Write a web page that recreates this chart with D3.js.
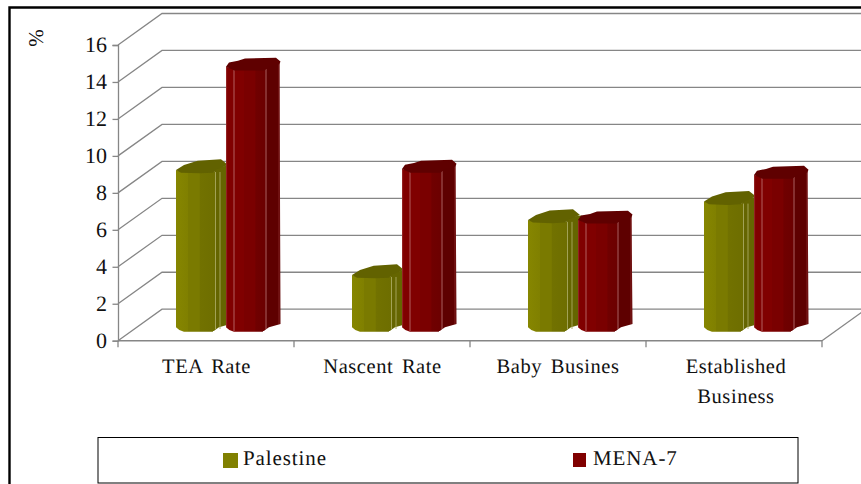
<!DOCTYPE html>
<html><head><meta charset="utf-8">
<script src="https://cdn.jsdelivr.net/npm/d3@7"></script>
<style>html,body{margin:0;padding:0;background:#fff;overflow:hidden}svg{display:block}text{font-family:"Liberation Serif",serif;fill:#111;text-rendering:geometricPrecision}</style>
</head><body><svg id="c" width="861" height="484"></svg>
<script>
const categories = [["TEA Rate"],["Nascent Rate"],["Baby Busines"],["Established","Business"]];
const seriesNames = ["Palestine","MENA-7"];
const palestine = [8.55,2.87,5.85,6.84];
const mena7 = [14.13,8.6,5.85,8.28];
const yTicks = [0,2,4,6,8,10,12,14,16];
const labelNudge = [0.5,0.5,0,2];
const svg = d3.select("#c");
const plot = {l:118,r:822,dx:44,dy:31.5};
const y = d3.scaleLinear().domain([0,16]).range([340.7,45]);
const x = d3.scaleBand().domain(d3.range(categories.length)).range([plot.l,plot.r]);
const xs = d3.scaleBand().domain(seriesNames).range([58,158]);
const barBase = 12.7, grid="#868686";
const defs = svg.append("defs");
const pal = {
 "Palestine":{stops:[["#868600",0],["#808000",.3],["#7a7a00",.31],["#7a7a00",.6],["#727200",.61],["#6e6e00",1]],side:"#656500",cap:"#626200",hi:"#a9a960",
   capPts:[[0,0],[8,-5],[21.7,-9.3],[45,-10.7],[52,-5],[41,-.7],[37,2.7],[24,3.3],[5,2.7]],hiX:[39.5,44]},
 "MENA-7":{stops:[["#800000",0],["#800000",.45],["#7a0000",.46],["#7a0000",.75],["#700000",.76],["#6c0000",1]],side:"#5e0000",cap:"#5f0000",hi:"#b86a6a",
   capPts:[[0,0],[3,-4.3],[12,-6],[19,-8.3],[50,-9.2],[54.5,-5.3],[53.3,-2.5],[43,0],[38.5,3.7],[8.3,3.7]],hiX:[8,40]}
};
seriesNames.forEach((s,i)=>{
 const g=defs.append("linearGradient").attr("id","g"+i);
 pal[s].stops.forEach(d=>g.append("stop").attr("offset",d[1]).attr("stop-color",d[0]));
});

// outer frame
svg.append("path").attr("d","M9.5,484V7.5H861").attr("fill","none").attr("stroke","#000").attr("stroke-width",2.4);

// walls
const g = svg.append("g").attr("fill","none").attr("stroke",grid).attr("stroke-width",1.3);
yTicks.forEach(t=>{
 g.append("path").attr("d",`M${plot.l},${y(t)}L${plot.l+plot.dx},${y(t)-plot.dy}H861`);
});
g.append("path").attr("d",`M${plot.r},${y(0)}L${plot.r+plot.dx},${y(0)-plot.dy}`);
g.append("path").attr("d",`M${plot.l},${y(0)}H${plot.r}`).attr("stroke-width",1.6);
d3.range(categories.length+1).forEach(i=>{
 const xx = i<categories.length? x(i): plot.r;
 g.append("path").attr("d",`M${xx},${y(0)}V${y(0)+6.5}`);
});

// y axis
const ax = svg.append("g").attr("transform",`translate(${plot.l},0)`).call(d3.axisLeft(y).tickValues(yTicks).tickSize(5.5).tickPadding(5.5).tickFormat(d3.format("d")));
ax.selectAll("path,line").attr("stroke",grid).attr("stroke-width",1.3);
ax.selectAll("text").attr("font-size",22).attr("fill","#111").attr("dy","0.31em");

// bars
function drawBar(i,s,v,si){
 const x0 = x(i)+xs(s), yb=y(0)-barBase, yt=yb-(y(0)-y(v)), c=pal[s];
 const G=svg.append("g");
 const P=(a,b)=>`${x0+a},${b}`;
 const frontR=39, capPts=c.capPts;
 // side face (its top runs under the cap)
 G.append("path").attr("fill",c.side).attr("d",`M${P(frontR-1,yt+2)}L${P(40,yt-3)}L${P(53.5,yt-4.5)}L${P(54.5,yb-4)}L${P(43,yb-.7)}L${P(frontR,yb+2)}L${P(frontR-3,yb+3.7)}Z`);
 // front face
 G.append("path").attr("fill",`url(#g${si})`).attr("d",`M${P(0,yt)}L${P(8,yt+2)}L${P(frontR,yt+2)}L${P(frontR,yb+2)}L${P(36,yb+3.7)}L${P(8,yb+3.7)}L${P(3.3,yb+2)}L${P(0,yb-.7)}Z`);
 // facet highlights
 c.hiX.forEach(h=>G.append("line").attr("x1",x0+h).attr("x2",x0+h).attr("y1",yt+2).attr("y2",yb+(h<20?3:1)).attr("stroke",c.hi).attr("stroke-width",.9));
 if(si===1){
  G.append("line").attr("x1",x0+.6).attr("x2",x0+.6).attr("y1",yt).attr("y2",yb-1).attr("stroke","#9a3030").attr("stroke-width",.8);
  G.append("line").attr("x1",x0+53).attr("x2",x0+53).attr("y1",yt-3).attr("y2",yb-4).attr("stroke","#8a2a2a").attr("stroke-width",.8);
 }
 // top cap
 G.append("path").attr("fill",c.cap).attr("d","M"+capPts.map(p=>P(p[0],yt+p[1])).join("L")+"Z");
}
categories.forEach((c,i)=>{
 drawBar(i,"Palestine",palestine[i],0);
 drawBar(i,"MENA-7",mena7[i],1);
});

// category labels
categories.forEach((c,i)=>{
 const t=svg.append("text").attr("text-anchor","middle").attr("font-size",20.5).attr("letter-spacing",.55).attr("word-spacing",3);
 c.forEach((l,k)=>t.append("tspan").attr("x",x(i)+x.bandwidth()/2+labelNudge[i]).attr("y",373+k*30).text(l));
});

// % label
svg.append("text").attr("transform","translate(43,38) rotate(-90)").attr("text-anchor","middle").attr("font-size",21).text("%");

// legend
svg.append("rect").attr("x",98).attr("y",437.5).attr("width",700).attr("height",45.5).attr("fill","#fff").attr("stroke","#000").attr("stroke-width",1);
const legendX=[223,573], legendText=[243,593], legendW=[15,13];
seriesNames.forEach((s,i)=>{
 svg.append("rect").attr("x",legendX[i]).attr("y",453).attr("width",legendW[i]).attr("height",i?14:15).attr("fill",i?"#800000":"#808000");
 svg.append("text").attr("x",legendText[i]).attr("y",465).attr("font-size",21).attr("letter-spacing",.9).text(s);
});
</script></body></html>
